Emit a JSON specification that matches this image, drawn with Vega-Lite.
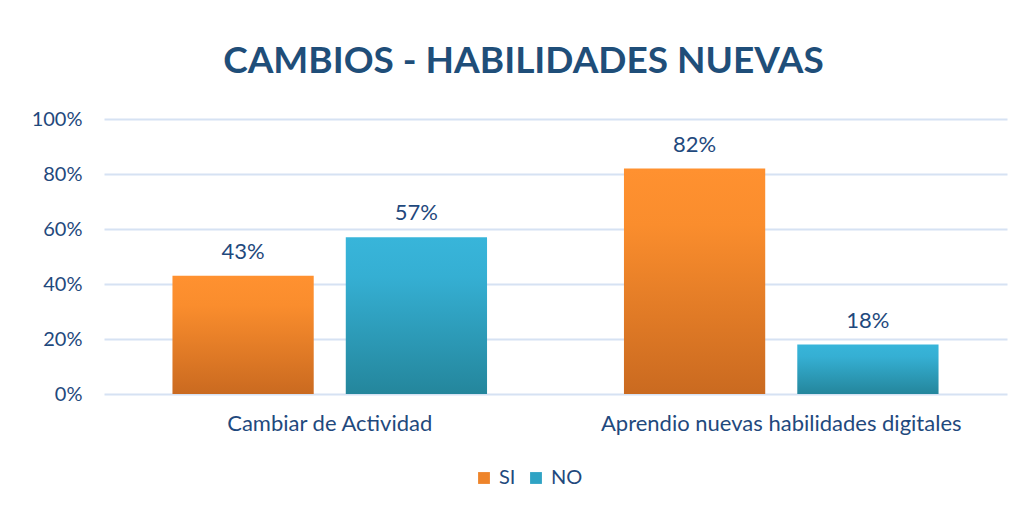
{
  "$schema": "https://vega.github.io/schema/vega-lite/v6.json",
  "autosize": "none",
  "width": 903,
  "height": 275,
  "padding": {"left": 104, "top": 119, "right": 14, "bottom": 114},
  "background": "white",
  "title": {
    "text": "CAMBIOS - HABILIDADES NUEVAS",
    "font": "Lato",
    "fontSize": 37,
    "fontWeight": "bold",
    "color": "#1F4E79",
    "anchor": "middle",
    "frame": "group",
    "offset": 28,
    "dx": -32
  },
  "data": {
    "values": [
      {"category": "Cambiar de Actividad", "series": "SI", "value": 0.43},
      {"category": "Cambiar de Actividad", "series": "NO", "value": 0.57},
      {"category": "Aprendio nuevas habilidades digitales", "series": "SI", "value": 0.82},
      {"category": "Aprendio nuevas habilidades digitales", "series": "NO", "value": 0.18}
    ]
  },
  "encoding": {
    "x": {
      "field": "category",
      "type": "nominal",
      "sort": null,
      "scale": {"paddingInner": 0, "paddingOuter": 0},
      "axis": {
        "title": null,
        "labelAngle": 0,
        "domain": false,
        "ticks": false,
        "grid": false,
        "labelPadding": 19,
        "labelLimit": 0,
        "labelFont": "Lato",
        "labelFontSize": 22,
        "labelColor": "#1F497D"
      }
    },
    "xOffset": {
      "field": "series",
      "type": "nominal",
      "sort": ["SI", "NO"],
      "scale": {"paddingInner": 0.185, "paddingOuter": 0.395}
    },
    "y": {
      "field": "value",
      "type": "quantitative",
      "scale": {"domain": [0, 1]},
      "axis": {
        "title": null,
        "values": [0, 0.2, 0.4, 0.6, 0.8, 1],
        "format": ".0%",
        "domain": false,
        "ticks": false,
        "grid": true,
        "labelPadding": 22,
        "labelFont": "Lato",
        "labelFontSize": 20,
        "labelColor": "#1F497D",
        "gridColor": "#D6E2F3",
        "gridWidth": 2,
        "gridOpacity": 1
      }
    }
  },
  "layer": [
    {
      "mark": {"type": "square", "size": 16, "filled": true, "opacity": 1},
      "encoding": {
        "y": {"datum": 0.05, "type": "quantitative"},
        "color": {
          "field": "series",
          "type": "nominal",
          "sort": ["SI", "NO"],
          "scale": {"domain": ["SI", "NO"], "range": ["#EE842A", "#2FA3C4"]},
          "legend": {
            "title": null,
            "orient": "none",
            "direction": "horizontal",
            "legendX": 370,
            "legendY": 349,
            "symbolType": "square",
            "symbolSize": 140,
            "symbolStrokeWidth": 0,
            "symbolOpacity": 1,
            "labelFont": "Lato",
            "labelFontSize": 20,
            "labelColor": "#1F497D",
            "labelOffset": 5,
            "columnPadding": 10,
            "padding": 0
          }
        }
      }
    },
    {
      "mark": {"type": "bar"},
      "encoding": {
        "fill": {
          "condition": {
            "test": "datum.series === 'SI'",
            "value": {
              "gradient": "linear", "x1": 0, "y1": 0, "x2": 0, "y2": 1,
              "stops": [{"offset": 0, "color": "#FF9130"}, {"offset": 0.25, "color": "#FA8D2D"}, {"offset": 1, "color": "#CA6A20"}]
            }
          },
          "value": {
            "gradient": "linear", "x1": 0, "y1": 0, "x2": 0, "y2": 1,
            "stops": [{"offset": 0, "color": "#38B5DA"}, {"offset": 0.25, "color": "#35AFD3"}, {"offset": 1, "color": "#24869C"}]
          }
        }
      }
    },
    {
      "mark": {"type": "text", "baseline": "alphabetic", "dy": -17, "font": "Lato", "fontSize": 22, "color": "#1F497D"},
      "encoding": {
        "text": {"field": "value", "type": "quantitative", "format": ".0%"}
      }
    }
  ],
  "config": {
    "view": {"stroke": null}
  }
}
